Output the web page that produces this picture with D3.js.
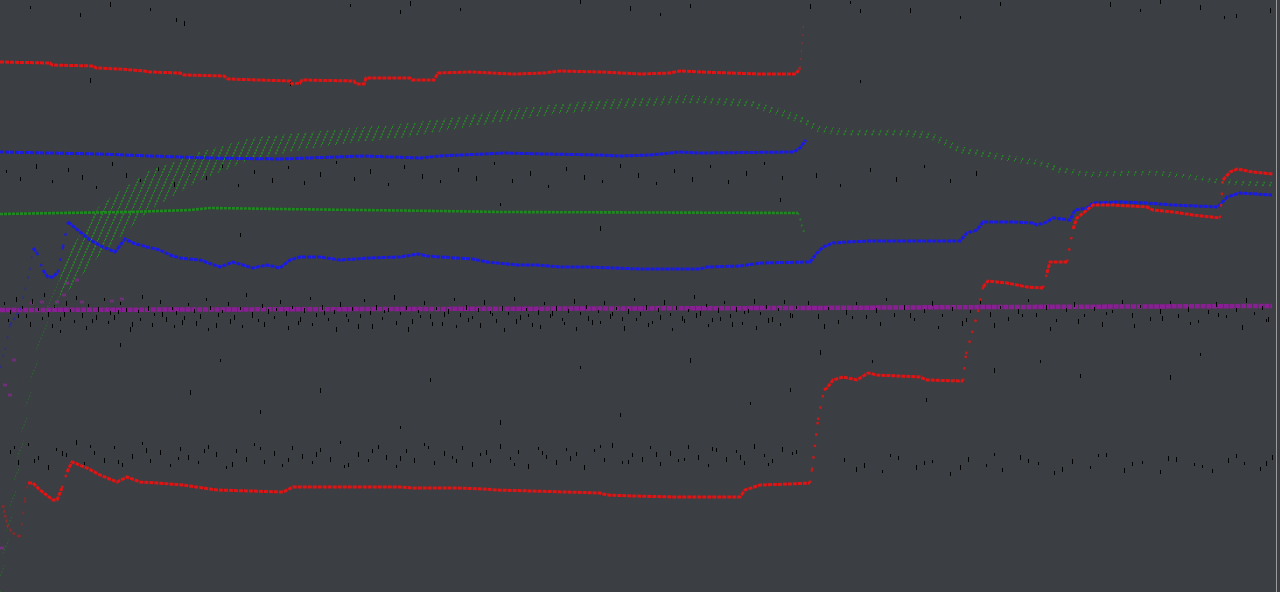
<!DOCTYPE html>
<html><head><meta charset="utf-8">
<script src="https://cdn.jsdelivr.net/npm/d3@7"></script>
<style>html,body{margin:0;padding:0;background:#3b3e42;overflow:hidden}svg{display:block}</style>
</head><body><svg id="c" width="1280" height="592"></svg>
<script>
// ---- data: [bar, value] ----
const redUpper = [[0,538],[25,537],[26,535],[47,534],[48,532],[60,531],[72,529],[75,528],[90,527],[92,525],[112,524],[114,521],[145,519],[146,516],[150,517],[151,520],[177,519],[178,516],[182,516],[183,522],[205,522],[206,520],[217,520],[219,527],[235,528],[257,526],[272,527],[280,529],[300,528],[310,527],[320,526],[335,527],[340,529],[350,528],[365,527],[380,526],[398,526],[400,532]];
const redUpperTail = [[400,532],[401,555],[402,580]];
const blueUpper = [[0,448],[25,447],[50,446],[75,444],[90,443],[105,442],[140,441],[182,444],[210,442],[220,444],[252,447],[272,446],[300,445],[310,444],[325,445],[340,448],[350,447],[397,448],[400,452],[403,460]];
const greenFlat = [[0,386],[30,387],[65,388],[95,390],[105,392],[140,391],[220,389],[250,388],[399,387]];
const greenFlatTail = [[399,387],[400,382],[401,374],[402,368]];
// green band: [bar, top, bottom]
const greenBandWarm = [[0,30,5],[5,95,70],[10,160,135],[15,220,200],[20,270,250],[25,305,285],[30,335,300]];
const greenBand = [[30,335,300],[50,395,345],[75,430,390],[100,448,420],[125,462,440],[150,467,450],[175,472,457],[200,476,462],[225,482,470],[250,490,478],[275,495,485],[300,500,490],[325,503,494],[345,505,497],[375,500,493],[400,485,477],[410,474,467],[425,471,464],[450,471,464],[465,468,461],[480,454,447],[500,446,440],[520,440,434],[530,433,427],[545,428,423],[575,430,425],[590,427,422],[610,421,416],[636,418,413]];
const blueLowerWarm = [[0,232],[2.5,250],[5,275],[10,290],[12.5,310],[15,330],[16.5,352]];
const blueLower = [[16.5,352],[18.5,347],[21.5,330],[24,323],[26.5,323],[29,328],[31.5,353],[34,378],[40,368],[45,360],[51.5,353],[57.5,348],[62.5,361],[66.5,357],[73.5,353],[80,350],[85,345],[90,342],[100,340],[110,333],[116.5,338],[126.5,332],[133.5,335],[140,332],[145,340],[150,343],[160,343],[170,340],[185,342],[200,343],[209,346],[213.5,344],[220,343],[236.5,341],[243.5,338],[258.5,335],[268.5,335],[280,333],[293.5,333],[320,331],[350,331],[353.5,333],[370,334],[380,337],[405,338],[408.5,347],[411.5,353],[416.5,357],[423.5,358],[435,359],[480,359],[483.5,367],[488.5,370],[491.5,378],[506.5,378],[516.5,377],[518.5,375],[523.5,378],[526.5,382],[535,380],[537.5,390],[543.5,392],[546.5,397],[560,398],[573.5,397],[586.5,395],[609,393],[613.5,403],[620,407],[636,405]];
const redLowerWarm = [[1.5,95],[2.5,85],[4,73],[6.5,67],[10,63],[12.5,100],[14,117]];
const redLower = [[14,117],[16.5,117],[20,110],[26.5,100],[28.5,100],[31,112],[33.5,128],[36,138],[43.5,132],[50,125],[58.5,118],[63.5,123],[70,118],[78.5,117],[91.5,115],[108.5,110],[141.5,108],[146.5,113],[160,113],[200,113],[206.5,112],[228.5,112],[241.5,111],[248.5,110],[300,107],[303.5,105],[316.5,104],[336.5,103],[370,103],[372.5,110],[380,115],[395,116],[405,117],[406,130],[409,180],[412,210],[413.5,212],[416.5,220],[421.5,223],[428.5,220],[434,227],[438.5,225],[460,223],[463.5,220],[481.5,219],[483,246],[486,267],[489,288],[491.5,313],[494,319],[503.5,317],[513.5,313],[521.5,312],[523.5,327],[525,338],[533.5,338],[536.5,371],[538.5,382],[543.5,390],[546.5,395],[556.5,395],[573.5,393],[576.5,390],[586.5,388],[596.5,385],[610,382],[611.5,420],[615,428],[618.5,431],[626.5,428],[636.5,426]];
const purpleLine = [[0,290],[200,291],[400,292],[500,293],[636,294]];
const purpleWarm = [[0,52],[1.5,215],[4,205],[6,240],[15,297],[20,298],[27.5,298],[31,305],[32.5,317],[37.5,320],[40,298],[55,299],[60,301]];
const noiseA = [[2,296],[5,288],[8,301],[11,292],[13,284],[16,299],[19,290],[22,305],[24,286],[27,293],[30,281],[33,297],[35,289],[38,302],[41,285],[44,294],[46,279],[49,291],[52,300],[55,287],[57,283],[60,296],[63,290],[66,276],[69,288],[71,303],[74,292],[77,285],[80,298],[83,281],[86,291],[88,287],[91,278],[94,295],[97,289],[100,284],[103,300],[105,292],[108,275],[111,288],[114,296],[117,283],[120,291],[123,305],[126,286],[129,279],[131,294],[134,289],[137,282],[140,298],[143,287],[146,292],[149,277],[152,290],[155,301],[158,285],[161,293],[164,280],[167,288],[170,296],[173,284],[176,291],[179,274],[182,299],[185,287],[188,293],[191,281],[194,290],[197,303],[200,286],[203,292],[206,279],[209,288],[212,297],[215,284],[218,291],[221,276],[224,289],[227,300],[230,285],[233,293],[236,282],[239,290],[242,298],[245,287],[248,279],[251,292],[254,286],[257,301],[260,283],[263,290],[266,275],[269,288],[272,296],[275,284],[278,292],[281,280],[284,289],[287,299],[290,286],[293,293],[296,278],[299,288],[302,297],[305,284],[308,291],[311,281],[314,289],[317,300],[320,286],[323,293],[326,277],[329,290],[332,298],[335,285],[338,292],[341,282],[344,289],[347,303],[350,287],[353,294],[356,280],[359,290],[362,297],[365,284],[368,291],[371,276],[374,289],[377,299],[380,286],[383,293],[386,281],[389,290],[392,298],[395,285],[398,292],[404,297],[409,284],[414,291],[419,278],[423,288],[428,296],[433,283],[438,290],[443,300],[447,285],[452,293],[457,280],[462,289],[466,297],[471,284],[476,291],[481,277],[485,288],[490,298],[495,286],[500,292],[504,281],[509,289],[514,299],[518,285],[523,293],[528,279],[533,290],[537,296],[542,284],[547,291],[551,276],[556,288],[561,298],[566,285],[570,293],[575,281],[580,289],[585,297],[589,284],[594,291],[599,278],[604,288],[608,296],[613,283],[618,290],[623,300],[627,286],[631,292],[634,281]];
const noiseA2 = [[4,279],[9,284],[15,276],[21,281],[26,274],[32,286],[37,278],[43,272],[48,283],[54,277],[59,288],[65,271],[70,280],[76,275],[81,286],[87,273],[92,282],[98,277],[104,270],[109,285],[115,279],[121,273],[126,284],[132,276],[138,290],[144,272],[150,281],[156,275],[162,287],[168,271],[174,279],[180,284],[186,274],[192,288],[198,277],[204,271],[210,283],[216,276],[222,286],[228,273],[234,280],[240,275],[246,285],[252,270],[258,279],[264,284],[270,273],[276,287],[282,276],[288,271],[294,282],[300,277],[306,286],[312,272],[318,280],[324,275],[330,283],[336,270],[342,279],[348,285],[354,274],[360,281],[366,276],[372,287],[378,272],[384,280],[390,275],[396,284],[412,274],[426,282],[440,276],[455,285],[469,272],[483,280],[497,275],[511,284],[525,271],[539,279],[553,286],[567,274],[581,282],[595,276],[609,285],[621,273],[633,279]];
const noiseB = [[5,148],[9,138],[14,155],[19,142],[24,133],[28,150],[33,145],[38,158],[42,136],[47,147],[52,140],[57,152],[61,135],[66,144],[71,156],[75,139],[80,148],[85,134],[90,151],[94,143],[99,137],[104,153],[108,146],[113,132],[118,149],[123,141],[127,155],[132,138],[137,147],[141,134],[146,152],[151,144],[156,137],[160,150],[165,141],[170,157],[174,135],[179,146],[184,139],[189,153],[193,143],[198,133],[203,149],[207,140],[212,155],[217,137],[222,147],[226,142],[231,152],[236,136],[240,145],[245,139],[250,154],[255,141],[259,148],[264,134],[269,151],[273,143],[278,138],[283,150],[288,146],[292,133],[297,149],[302,140],[306,155],[311,137],[316,145],[321,141],[325,152],[330,136],[335,147],[339,139],[344,153],[349,143],[354,134],[358,150],[363,141],[368,148],[372,137],[377,154],[382,144],[386,139],[391,151],[396,146],[422,140],[432,135],[441,128],[449,142],[458,133],[466,138],[475,126],[484,141],[493,134],[501,130],[510,143],[519,136],[527,127],[536,139],[545,132],[553,145],[562,130],[571,137],[580,128],[588,141],[597,135],[606,129],[614,140],[622,136],[630,131],[636,143]];
const noiseB2 = [[7,152],[17,139],[31,147],[45,153],[59,138],[73,150],[89,141],[102,149],[116,136],[130,151],[144,140],[158,146],[172,133],[186,149],[200,142],[214,152],[228,139],[243,148],[257,135],[271,147],[285,142],[300,153],[314,138],[328,146],[342,140],[356,151],[370,143],[384,135],[398,148],[428,131],[445,144],[462,137],[480,133],[497,145],[514,139],[531,131],[549,144],[566,136],[584,142],[601,133],[618,144],[633,137]];
const noiseC = [[3,428],[10,421],[18,434],[26,418],[34,430],[41,423],[48,412],[56,436],[63,425],[70,419],[79,431],[87,416],[95,427],[103,422],[111,435],[119,414],[127,428],[136,420],[144,432],[152,417],[160,426],[168,437],[177,421],[185,429],[194,415],[202,433],[211,424],[220,418],[229,430],[238,422],[247,436],[256,419],[265,427],[274,413],[283,431],[292,423],[301,418],[310,434],[319,425],[328,416],[337,429],[346,421],[355,433],[364,418],[373,427],[382,436],[391,422],[408,425],[420,414],[435,430],[448,421],[462,433],[475,419],[488,427]];
const noiseD = [[15,592],[40,585],[55,596],[75,590],[88,580],[92,577],[175,594],[200,588],[205,597],[230,590],[290,598],[315,592],[330,585],[345,594],[405,594],[425,597],[430,589],[455,590],[480,582],[500,596],[555,596],[570,589],[580,598],[600,593],[612,582],[618,584],[635,590]];
const noiseE = [[30,268],[60,255],[95,208],[110,239],[130,188],[160,210],[200,172],[215,220],[250,178],[290,232],[310,185],[345,240],[375,196],[395,210],[410,248],[436,238],[463,200],[497,230],[520,238],[540,224],[585,223],[600,245],[145,516],[45,520],[430,518],[120,365],[300,372],[250,395],[390,400]];

// ---- scales ----
const W = 1280, H = 592;
const x = d3.scaleLinear().domain([0, 640]).range([0, W]);
const y = d3.scaleLinear().domain([8, 600]).range([H, 0]);
const svg = d3.select('#c');
svg.append('rect').attr('width', W).attr('height', H).attr('fill', '#3b3e42');

const defs = svg.append('defs');
const pat = defs.append('pattern').attr('id', 'hatch').attr('patternUnits', 'userSpaceOnUse')
  .attr('width', 7).attr('height', 16);
pat.append('path').attr('d', 'M0,16 L7,0').attr('stroke', '#218c21').attr('stroke-width', 1.5)
  .attr('stroke-dasharray', '2,1.2');
const pat2 = defs.append('pattern').attr('id', 'hatch2').attr('patternUnits', 'userSpaceOnUse')
  .attr('width', 7).attr('height', 16);
pat2.append('path').attr('d', 'M0,16 L7,0').attr('stroke', '#1f8a1f').attr('stroke-width', 1.1)
  .attr('stroke-dasharray', '1.5,2');

const line = d3.line().x(d => x(d[0])).y(d => y(d[1]));
function drawSeries(data, color, width, dash, opacity) {
  // split into flat runs; steep jumps are drawn as sparse dots
  let run = [data[0]];
  const runs = [], jumps = [];
  for (let i = 1; i < data.length; i++) {
    const a = data[i - 1], b = data[i];
    const dx = Math.abs(x(b[0]) - x(a[0])), dy = Math.abs(y(b[1]) - y(a[1]));
    if (dy > 12 && dy > 2 * dx) {
      if (run.length > 1) runs.push(run);
      jumps.push([a, b]);
      run = [b];
    } else run.push(b);
  }
  if (run.length > 1) runs.push(run);
  runs.forEach(r => svg.append('path').attr('d', line(r)).attr('fill', 'none')
    .attr('stroke', color).attr('stroke-width', width).attr('stroke-dasharray', dash)
    .attr('opacity', opacity));
  jumps.forEach(j => svg.append('path').attr('d', line(j)).attr('fill', 'none')
    .attr('stroke', color).attr('stroke-width', width * 0.8).attr('stroke-dasharray', '2.5,9')
    .attr('opacity', opacity * 0.85));
}

// purple
svg.append('path').attr('d', line(purpleLine)).attr('fill', 'none')
  .attr('stroke', '#8c1d98').attr('stroke-width', 4.5).attr('stroke-dasharray', '5,0.8').attr('opacity', 0.95);
svg.append('g').selectAll('rect').data(purpleWarm).join('rect')
  .attr('x', d => x(d[0])).attr('y', d => y(d[1]) - 1.5).attr('width', 4).attr('height', 3)
  .attr('fill', '#9a22a8').attr('opacity', 0.55);

// noise ticks (drawn over the purple line)
const noise = [].concat(noiseA, noiseA2, noiseB, noiseB2, noiseC, noiseD, noiseE);
svg.append('g').selectAll('rect').data(noise).join('rect')
  .attr('x', d => Math.round(x(d[0])))
  .attr('y', d => Math.round(y(d[1])) - 2)
  .attr('width', 1)
  .attr('height', (d, i) => 3 + (i % 3))
  .attr('fill', '#000');

// green band (hatched)
const area = d3.area().x(d => x(d[0])).y0(d => y(d[2])).y1(d => y(d[1]));
svg.append('path').attr('d', area(greenBandWarm)).attr('fill', 'url(#hatch2)').attr('opacity', 0.6);
svg.append('path').attr('d', area(greenBand)).attr('fill', 'url(#hatch)');

// green flat
drawSeries(greenFlat, '#1f8a1f', 2.6, '3,1', 1);
drawSeries(greenFlatTail, '#1f8a1f', 2, '2,4', 0.7);

// blue
drawSeries(blueUpper, '#1a1ae6', 3, '4,1', 1);
drawSeries(blueLowerWarm, '#1a1ae6', 2.2, '3,3', 0.45);
drawSeries(blueLower, '#1a1ae6', 3, '4,1', 1);

// red
drawSeries(redUpper, '#e01414', 3, '4,1', 1);
svg.append('path').attr('d', line(redUpperTail)).attr('fill', 'none')
  .attr('stroke', '#c03030').attr('stroke-width', 1.2).attr('stroke-dasharray', '2,6').attr('opacity', 0.5);
drawSeries(redLowerWarm, '#e01414', 2.4, '3,2', 0.45);
drawSeries(redLower, '#e01414', 3, '4,1', 1);

// right edge
svg.append('line').attr('x1', W - 3.5).attr('x2', W - 3.5).attr('y1', 0).attr('y2', H)
  .attr('stroke', '#9a9a9a').attr('stroke-width', 1);
</script></body></html>
